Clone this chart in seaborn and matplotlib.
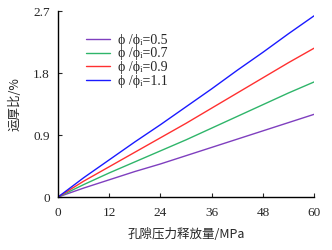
import numpy as np
import pandas as pd
import matplotlib
matplotlib.use('Agg')
import matplotlib.pyplot as plt
import seaborn as sns

# pore pressure release (MPa) vs thickness reduction ratio (%)
pressure = [0, 6, 12, 18, 24, 30, 36, 42, 48, 54, 60]
ratio_05 = [0, 0.13, 0.25, 0.37, 0.48, 0.60, 0.72, 0.84, 0.96, 1.08, 1.20]
ratio_07 = [0, 0.18, 0.35, 0.51, 0.67, 0.83, 1.00, 1.17, 1.34, 1.51, 1.67]
ratio_09 = [0, 0.23, 0.44, 0.65, 0.86, 1.07, 1.29, 1.51, 1.73, 1.95, 2.16]
ratio_11 = [0, 0.28, 0.54, 0.80, 1.05, 1.31, 1.57, 1.84, 2.10, 2.37, 2.63]
labels = ['ϕ /ϕᵢ=0.5', 'ϕ /ϕᵢ=0.7', 'ϕ /ϕᵢ=0.9', 'ϕ /ϕᵢ=1.1']
colors = ['#7f3fbf', '#2fb56a', '#ff3030', '#1a1aff']

df = pd.concat([
    pd.DataFrame({'p': pressure, 'r': vals, 'case': lab})
    for vals, lab in zip([ratio_05, ratio_07, ratio_09, ratio_11], labels)
])

sns.set_style('white')
plt.rcParams['font.family'] = ['Liberation Serif', 'DejaVu Serif', 'Noto Sans CJK SC']

fig = plt.figure(figsize=(3.32, 2.5), dpi=100)
ax = fig.add_axes([0.175, 0.212, 0.771, 0.744])
sns.lineplot(data=df, x='p', y='r', hue='case', palette=colors, linewidth=1.0, ax=ax)

ax.set_xlim(0, 60)
ax.set_ylim(0, 2.7)
ax.set_xticks([0, 12, 24, 36, 48, 60])
ax.set_yticks([0, 0.9, 1.8, 2.7])
ax.set_yticklabels(['0', '0.9', '1.8', '2.7'])
ax.tick_params(direction='in', length=3, width=0.8, labelsize=9.5, left=True, bottom=True)
ax.tick_params(axis='x', pad=7)
ax.tick_params(axis='y', pad=6)
for s in ['top', 'right']:
    ax.spines[s].set_visible(False)
for s in ['left', 'bottom']:
    ax.spines[s].set_color('black')
    ax.spines[s].set_linewidth(1.0)

ax.set_xlabel('孔隙压力释放量/MPa', fontsize=9, family=['Noto Sans CJK SC'], labelpad=7)
ax.set_ylabel('运厚比/%', fontsize=9, family=['Noto Sans CJK SC'], labelpad=8)
leg = ax.legend(loc='upper left', bbox_to_anchor=(0.06, 0.945), frameon=False,
                prop={'size': 10},
                handlelength=1.7, labelspacing=0.05, handletextpad=0.6)

plt.savefig('out.png', dpi=100)
plt.close()
